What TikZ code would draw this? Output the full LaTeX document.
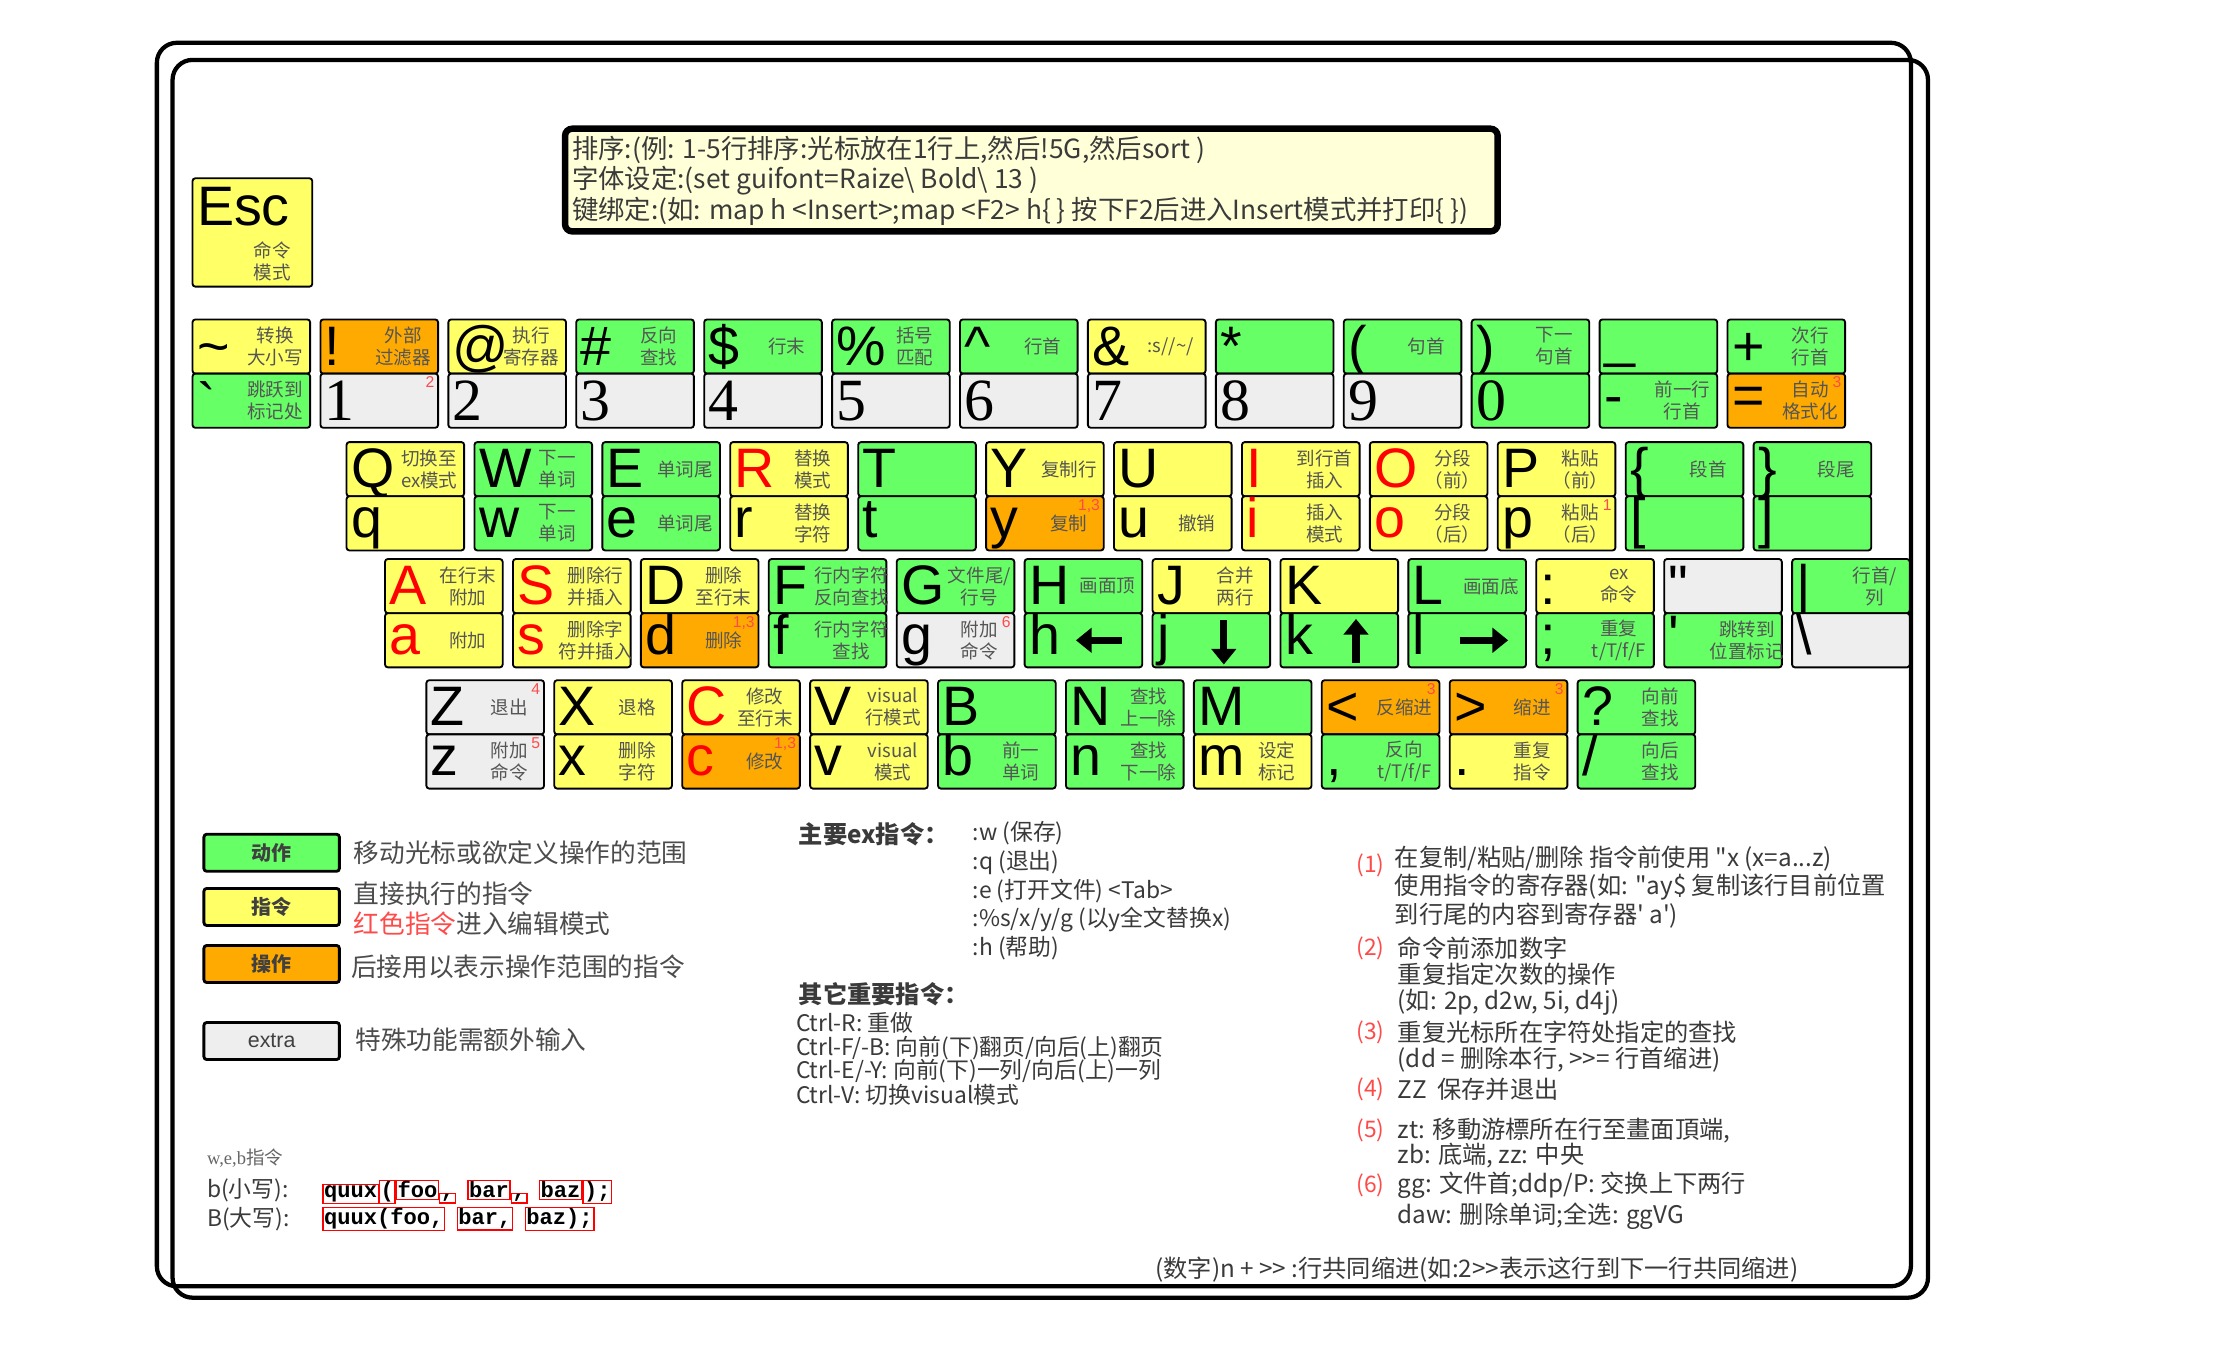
\documentclass[tikz,border=0pt]{standalone}
\usepackage{fontspec}
\setmainfont{Liberation Sans}[Ligatures=TeXOff]
\newfontfamily\cjk{Noto Sans CJK SC}
\newfontfamily\digf{Liberation Serif}
\newfontfamily\monof{Liberation Mono}
\usetikzlibrary{arrows.meta}
\definecolor{kgreen}{HTML}{66FF66}
\definecolor{kyellow}{HTML}{FFFF66}
\definecolor{korange}{HTML}{FFAA00}
\definecolor{kgray}{HTML}{EEEEEE}
\definecolor{dtext}{HTML}{555555}
\definecolor{ttext}{HTML}{3A3A3A}
\definecolor{supred}{HTML}{FF4A4A}
\definecolor{hdrfill}{HTML}{FFFFD8}
\newcommand\fsz[2]{\fontsize{#1}{#2}\selectfont}
\newcommand\digt[1]{\lower4pt\hbox{\digf\fsz{42}{42}#1}}
\newlength\kdw
\tikzset{
  half/.style={draw=black, line width=1.3pt, rounded corners=2pt, minimum width=82.5pt, minimum height=38pt, anchor=north west, inner sep=0pt, outer sep=0pt},
  biglet/.style={anchor=base west, inner sep=0pt, font=\fsz{39}{39}},
  kdesc/.style={align=center, inner sep=0pt, text=dtext, font=\cjk\fsz{13}{15.5}},
  ksup/.style={anchor=north east, inner sep=0pt, text=supred, font=\fsz{11}{11}},
  frame/.style={draw=black, line width=3pt, rounded corners=14pt},
  hdrtxt/.style={anchor=west, inner sep=0pt, text=ttext, font=\cjk\fsz{18.5}{19}},
  legbox/.style={draw=black, line width=2pt, rounded corners=2pt, minimum width=95pt, minimum height=26pt, inner sep=0pt, font=\cjk\bfseries\fsz{14}{14}, text=black!75},
  legtxt/.style={anchor=west, inner sep=0pt, text=black!70, font=\cjk\fsz{18}{18}},
  txt/.style={anchor=west, inner sep=0pt, text=ttext, font=\cjk\fsz{16}{16}},
  ntxt/.style={anchor=west, inner sep=0pt, text=ttext, font=\cjk\fsz{17}{17}},
  num/.style={anchor=west, inner sep=0pt, text=supred, font=\cjk\fsz{16}{16}},
  qbox/.style={draw=red, line width=0.9pt, inner sep=0.8pt, anchor=base west, font=\monof\bfseries\fsz{15.5}{15.5}},
  arr/.style={line width=5pt, -{Triangle[length=11pt,width=17pt]}},
}
\newcommand\khalf[9]{%
  \node[half, fill=#4] (#1) at ({#2},{-#3}) {};
  \node[biglet, text=#6] (#1l) at ({#2+3},{-#3-#9}) {#5};
  \def\kdtmp{#7}\ifx\kdtmp\empty\else
  \settowidth\kdw{\cjk\fsz{13}{15.5}\begin{tabular}{@{}c@{}}#7\end{tabular}}%
  \pgfmathsetmacro\kdx{min(58,79.5-\kdw/2)}%
  \node[kdesc] (#1d) at ({#2+\kdx},{-#3-19}) {#7};\fi
  \def\kstmp{#8}\ifx\kstmp\empty\else
  \node[ksup] (#1s) at ({#2+80},{-#3-2}) {#8};\fi
}
\newcommand\keytop[8]{\khalf{#1}{#2}{#3}{#4}{#5}{#6}{#7}{#8}{32}}
\newcommand\keybot[8]{\khalf{#1}{#2}{#3}{#4}{#5}{#6}{#7}{#8}{29}}
\begin{document}
\begin{tikzpicture}[x=1pt,y=1pt]
\useasboundingbox (0,0) rectangle (1568,-951);
\fill[white] (0,0) rectangle (1568,-951);
% frame
\draw[frame] (110,-30) rectangle (1340,-902);
\draw[frame] (121,-42) rectangle (1352,-910);
% header
\node[draw=black, line width=4.5pt, rounded corners=5pt, fill=hdrfill, minimum width=654pt, minimum height=72pt, anchor=north west, inner sep=0pt] (hdr) at (394,-88) {};
\node[hdrtxt] (hdr1) at (401,-105) {排序:(例: 1-5行排序:光标放在1行上,然后!5G,然后sort )};
\node[hdrtxt] (hdr2) at (401,-127) {字体设定:(set guifont=Raize\textbackslash\ Bold\textbackslash\ 13 )};
\node[hdrtxt] (hdr3) at (401,-148) {键绑定:(如: map h <Insert>;map <F2> h\{ \} 按下F2后进入Insert模式并打印\{ \})};
% Esc
\node[half, fill=kyellow, minimum height=76pt, minimum width=84pt] (esc) at (135,-125) {};
\node[biglet] (escl) at (138,-158) {Esc};
\node[kdesc] (escd) at (191,-183) {命令\\模式};
% ---------- row 1 ----------
\keytop{a0t}{135}{224}{kyellow}{\textasciitilde}{black}{转换\\大小写}{}
\keybot{a0b}{135}{262}{kgreen}{\lower5pt\hbox{`}}{black}{跳跃到\\标记处}{}
\keytop{a1t}{135+89.7*1}{224}{korange}{!}{black}{外部\\过滤器}{}
\keybot{a1b}{135+89.7*1}{262}{kgray}{\digt{1}}{black}{}{2}
\keytop{a2t}{135+89.7*2}{224}{kyellow}{@}{black}{执行\\寄存器}{}
\keybot{a2b}{135+89.7*2}{262}{kgray}{\digt{2}}{black}{}{}
\keytop{a3t}{135+89.7*3}{224}{kgreen}{\#}{black}{反向\\查找}{}
\keybot{a3b}{135+89.7*3}{262}{kgray}{\digt{3}}{black}{}{}
\keytop{a4t}{135+89.7*4}{224}{kgreen}{\$}{black}{行末}{}
\keybot{a4b}{135+89.7*4}{262}{kgray}{\digt{4}}{black}{}{}
\keytop{a5t}{135+89.7*5}{224}{kgreen}{\%}{black}{括号\\匹配}{}
\keybot{a5b}{135+89.7*5}{262}{kgray}{\digt{5}}{black}{}{}
\keytop{a6t}{135+89.7*6}{224}{kgreen}{\textasciicircum}{black}{行首}{}
\keybot{a6b}{135+89.7*6}{262}{kgray}{\digt{6}}{black}{}{}
\keytop{a7t}{135+89.7*7}{224}{kyellow}{\&}{black}{:s//\textasciitilde/}{}
\keybot{a7b}{135+89.7*7}{262}{kgray}{\digt{7}}{black}{}{}
\keytop{a8t}{135+89.7*8}{224}{kgreen}{*}{black}{}{}
\keybot{a8b}{135+89.7*8}{262}{kgray}{\digt{8}}{black}{}{}
\keytop{a9t}{135+89.7*9}{224}{kgreen}{(}{black}{句首}{}
\keybot{a9b}{135+89.7*9}{262}{kgray}{\digt{9}}{black}{}{}
\keytop{a10t}{135+89.7*10}{224}{kgreen}{)}{black}{下一\\句首}{}
\keybot{a10b}{135+89.7*10}{262}{kgreen}{\digt{0}}{black}{}{}
\keytop{a11t}{135+89.7*11}{224}{kgreen}{\raise6pt\hbox{\_}}{black}{}{}
\keybot{a11b}{135+89.7*11}{262}{kgreen}{-}{black}{前一行\\行首}{}
\keytop{a12t}{135+89.7*12}{224}{kgreen}{+}{black}{次行\\行首}{}
\keybot{a12b}{135+89.7*12}{262}{korange}{=}{black}{自动\\格式化}{3}
% ---------- row 2 ----------
\keytop{b0t}{243}{310}{kyellow}{Q}{black}{切换至\\ex模式}{}
\keybot{b0b}{243}{348}{kyellow}{q}{black}{}{}
\keytop{b1t}{243+89.7*1}{310}{kgreen}{W}{black}{下一\\单词}{}
\keybot{b1b}{243+89.7*1}{348}{kgreen}{w}{black}{下一\\单词}{}
\keytop{b2t}{243+89.7*2}{310}{kgreen}{E}{black}{单词尾}{}
\keybot{b2b}{243+89.7*2}{348}{kgreen}{e}{black}{单词尾}{}
\keytop{b3t}{243+89.7*3}{310}{kyellow}{R}{red}{替换\\模式}{}
\keybot{b3b}{243+89.7*3}{348}{kyellow}{r}{black}{替换\\字符}{}
\keytop{b4t}{243+89.7*4}{310}{kgreen}{T}{black}{}{}
\keybot{b4b}{243+89.7*4}{348}{kgreen}{t}{black}{}{}
\keytop{b5t}{243+89.7*5}{310}{kyellow}{Y}{black}{复制行}{}
\keybot{b5b}{243+89.7*5}{348}{korange}{y}{black}{复制}{1,3}
\keytop{b6t}{243+89.7*6}{310}{kyellow}{U}{black}{}{}
\keybot{b6b}{243+89.7*6}{348}{kyellow}{u}{black}{撤销}{}
\keytop{b7t}{243+89.7*7}{310}{kyellow}{I}{red}{到行首\\插入}{}
\keybot{b7b}{243+89.7*7}{348}{kyellow}{i}{red}{插入\\模式}{}
\keytop{b8t}{243+89.7*8}{310}{kyellow}{O}{red}{分段\\（前）}{}
\keybot{b8b}{243+89.7*8}{348}{kyellow}{o}{red}{分段\\（后）}{}
\keytop{b9t}{243+89.7*9}{310}{kyellow}{P}{black}{粘贴\\（前）}{}
\keybot{b9b}{243+89.7*9}{348}{kyellow}{p}{black}{粘贴\\（后）}{1}
\keytop{b10t}{243+89.7*10}{310}{kgreen}{\{}{black}{段首}{}
\keybot{b10b}{243+89.7*10}{348}{kgreen}{[}{black}{}{}
\keytop{b11t}{243+89.7*11}{310}{kgreen}{\}}{black}{段尾}{}
\keybot{b11b}{243+89.7*11}{348}{kgreen}{]}{black}{}{}
% ---------- row 3 ----------
\keytop{c0t}{270}{392}{kyellow}{A}{red}{在行末\\附加}{}
\keybot{c0b}{270}{430}{kyellow}{a}{red}{附加}{}
\keytop{c1t}{270+89.7*1}{392}{kyellow}{S}{red}{删除行\\并插入}{}
\keybot{c1b}{270+89.7*1}{430}{kyellow}{s}{red}{删除字\\符并插入}{}
\keytop{c2t}{270+89.7*2}{392}{kyellow}{D}{black}{删除\\至行末}{}
\keybot{c2b}{270+89.7*2}{430}{korange}{d}{black}{删除}{1,3}
\keytop{c3t}{270+89.7*3}{392}{kgreen}{F}{black}{行内字符\\反向查找}{}
\keybot{c3b}{270+89.7*3}{430}{kgreen}{f}{black}{行内字符\\查找}{}
\keytop{c4t}{270+89.7*4}{392}{kgreen}{G}{black}{文件尾/\\行号}{}
\keybot{c4b}{270+89.7*4}{430}{kgray}{g}{black}{附加\\命令}{6}
\keytop{c5t}{270+89.7*5}{392}{kgreen}{H}{black}{画面顶}{}
\keybot{c5b}{270+89.7*5}{430}{kgreen}{h}{black}{}{}
\keytop{c6t}{270+89.7*6}{392}{kyellow}{J}{black}{合并\\两行}{}
\keybot{c6b}{270+89.7*6}{430}{kgreen}{j}{black}{}{}
\keytop{c7t}{270+89.7*7}{392}{kyellow}{K}{black}{}{}
\keybot{c7b}{270+89.7*7}{430}{kgreen}{k}{black}{}{}
\keytop{c8t}{270+89.7*8}{392}{kgreen}{L}{black}{画面底}{}
\keybot{c8b}{270+89.7*8}{430}{kgreen}{l}{black}{}{}
\keytop{c9t}{270+89.7*9}{392}{kyellow}{:}{black}{ex\\命令}{}
\keybot{c9b}{270+89.7*9}{430}{kgreen}{;}{black}{重复\\t/T/f/F}{}
\keytop{c10t}{270+89.7*10}{392}{kgray}{"}{black}{}{}
\keybot{c10b}{270+89.7*10}{430}{kgreen}{'}{black}{跳转到\\位置标记}{}
\keytop{c11t}{270+89.7*11}{392}{kgreen}{|}{black}{行首/\\列}{}
\keybot{c11b}{270+89.7*11}{430}{kgray}{\textbackslash}{black}{}{}
% arrows
\draw[arr] ({270+89.7*5+68},-449) -- ({270+89.7*5+36},-449);
\draw[arr] ({270+89.7*6+50},-435) -- ({270+89.7*6+50},-466);
\draw[arr] ({270+89.7*7+53},-465) -- ({270+89.7*7+53},-434);
\draw[arr] ({270+89.7*8+36},-449) -- ({270+89.7*8+70},-449);
% ---------- row 4 ----------
\keytop{d0t}{299}{477}{kgray}{Z}{black}{退出}{4}
\keybot{d0b}{299}{515}{kgray}{z}{black}{附加\\命令}{5}
\keytop{d1t}{299+89.7*1}{477}{kyellow}{X}{black}{退格}{}
\keybot{d1b}{299+89.7*1}{515}{kyellow}{x}{black}{删除\\字符}{}
\keytop{d2t}{299+89.7*2}{477}{kyellow}{C}{red}{修改\\至行末}{}
\keybot{d2b}{299+89.7*2}{515}{korange}{c}{red}{修改}{1,3}
\keytop{d3t}{299+89.7*3}{477}{kyellow}{V}{black}{visual\\行模式}{}
\keybot{d3b}{299+89.7*3}{515}{kyellow}{v}{black}{visual\\模式}{}
\keytop{d4t}{299+89.7*4}{477}{kgreen}{B}{black}{}{}
\keybot{d4b}{299+89.7*4}{515}{kgreen}{b}{black}{前一\\单词}{}
\keytop{d5t}{299+89.7*5}{477}{kgreen}{N}{black}{查找\\上一除}{}
\keybot{d5b}{299+89.7*5}{515}{kgreen}{n}{black}{查找\\下一除}{}
\keytop{d6t}{299+89.7*6}{477}{kgreen}{M}{black}{}{}
\keybot{d6b}{299+89.7*6}{515}{kyellow}{m}{black}{设定\\标记}{}
\keytop{d7t}{299+89.7*7}{477}{korange}{<}{black}{反缩进}{3}
\keybot{d7b}{299+89.7*7}{515}{kgreen}{,}{black}{反向\\t/T/f/F}{}
\keytop{d8t}{299+89.7*8}{477}{korange}{>}{black}{缩进}{3}
\keybot{d8b}{299+89.7*8}{515}{kyellow}{.}{black}{重复\\指令}{}
\keytop{d9t}{299+89.7*9}{477}{kgreen}{?}{black}{向前\\查找}{}
\keybot{d9b}{299+89.7*9}{515}{kgreen}{/}{black}{向后\\查找}{}
% ---------- legend ----------
\node[legbox, fill=kgreen] (lg1) at (190.5,-598) {动作};
\node[legtxt] (lt1) at (248,-598) {移动光标或欲定义操作的范围};
\node[legbox, fill=kyellow] (lg2) at (190.5,-636) {指令};
\node[legtxt] (lt2) at (248,-627) {直接执行的指令};
\node[legtxt] (lt3) at (248,-648) {{\color{supred}红色指令}进入编辑模式};
\node[legbox, fill=korange] (lg3) at (190.5,-676) {操作};
\node[legtxt] (lt4) at (246,-678) {后接用以表示操作范围的指令};
\node[legbox, fill=kgray, font=\fsz{15}{15}] (lg4) at (190.5,-730) {extra};
\node[legtxt] (lt5) at (249,-729) {特殊功能需额外输入};
% ---------- w,e,b ----------
\node[txt, font=\digf\fsz{13}{13}, text=black!60] (web) at (145,-812) {w,e,b\cjk 指令};
\node[txt] (blow) at (145,-835) {b(\cjk 小写):};
\node[txt] (bup) at (145,-855) {B(\cjk 大写):};
\node[qbox] (q1) at (226,-840) {quux};
\node[qbox] (q2) at (q1.base east) {(};
\node[qbox] (q3) at (q2.base east) {foo};
\node[qbox] (q4) at (q3.base east) {,};
\node[qbox] (q5) at ([xshift=8pt]q4.base east) {bar};
\node[qbox] (q6) at (q5.base east) {,};
\node[qbox] (q7) at ([xshift=8pt]q6.base east) {baz};
\node[qbox] (q8) at (q7.base east) {);};
\node[qbox] (Q1) at (226,-859) {quux(foo,};
\node[qbox] (Q2) at ([xshift=8pt]Q1.base east) {bar,};
\node[qbox] (Q3) at ([xshift=8pt]Q2.base east) {baz);};
% ---------- ex commands ----------
\node[txt, font=\cjk\bfseries\fsz{17}{17}] (ex0) at (560,-585) {主要ex指令：};
\node[txt] (ex1) at (682,-584) {:w (保存)};
\node[txt] (ex2) at (682,-605) {:q (退出)};
\node[txt] (ex3) at (682,-625) {:e (打开文件) <Tab>};
\node[txt] (ex4) at (682,-645) {:\%s/x/y/g (以y全文替换x)};
\node[txt] (ex5) at (682,-665) {:h (帮助)};
\node[txt, font=\cjk\bfseries\fsz{17}{17}] (ot0) at (560,-697) {其它重要指令：};
\node[txt] (ot1) at (558,-717) {Ctrl-R: 重做};
\node[txt] (ot2) at (558,-735) {Ctrl-F/-B: 向前(下)翻页/向后(上)翻页};
\node[txt] (ot3) at (558,-751) {Ctrl-E/-Y: 向前(下)一列/向后(上)一列};
\node[txt] (ot4) at (558,-768) {Ctrl-V: 切换visual模式};
% ---------- notes ----------
\node[num] (n1) at (951,-607) {(1)};
\node[ntxt] (n1a) at (978,-602) {在复制/粘贴/删除 指令前使用 "x (x=a...z)};
\node[ntxt] (n1b) at (978,-622) {使用指令的寄存器(如: "ay\$ 复制该行目前位置};
\node[ntxt] (n1c) at (978,-642) {到行尾的内容到寄存器' a')};
\node[num] (n2) at (951,-665) {(2)};
\node[ntxt] (n2a) at (980,-665) {命令前添加数字};
\node[ntxt] (n2b) at (980,-683) {重复指定次数的操作};
\node[ntxt] (n2c) at (980,-703) {(如: 2p, d2w, 5i, d4j)};
\node[num] (n3) at (951,-724) {(3)};
\node[ntxt] (n3a) at (980,-724) {重复光标所在字符处指定的查找};
\node[ntxt] (n3b) at (980,-743) {(dd = 删除本行, >>= 行首缩进)};
\node[num] (n4) at (951,-764) {(4)};
\node[ntxt] (n4a) at (980,-764) {ZZ\ \ 保存并退出};
\node[num] (n5) at (951,-793) {(5)};
\node[ntxt] (n5a) at (980,-793) {zt: 移動游標所在行至畫面頂端,};
\node[ntxt] (n5b) at (980,-810) {zb: 底端, zz: 中央};
\node[num] (n6) at (951,-831) {(6)};
\node[ntxt] (n6a) at (980,-831) {gg: 文件首;ddp/P: 交换上下两行};
\node[ntxt] (n6b) at (980,-853) {daw: 删除单词;全选: ggVG};
% bottom line
\node[ntxt] (bot) at (810,-890) {(数字)n + >> :行共同缩进(如:2>>表示这行到下一行共同缩进)};
\end{tikzpicture}
\end{document}
